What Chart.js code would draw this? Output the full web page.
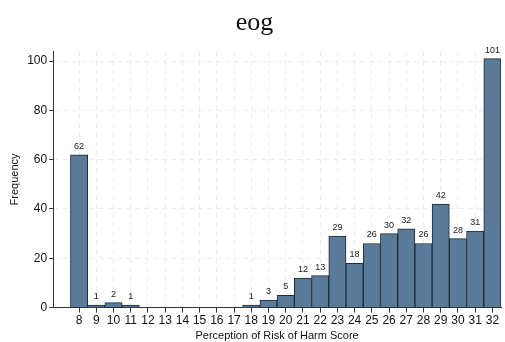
<!DOCTYPE html>
<html>
<head>
<meta charset="utf-8">
<script src="https://cdn.jsdelivr.net/npm/chart.js@4/dist/chart.umd.min.js"></script>
<style>
  html, body { margin: 0; padding: 0; background: #fff; }
  #wrap { width: 505px; height: 342px; }
</style>
</head>
<body>
<div id="wrap"><canvas id="chart"></canvas></div>
<script>
// Histogram data: score -> frequency
const scores = [8, 9, 10, 11, 12, 13, 14, 15, 16, 17, 18, 19, 20, 21, 22, 23, 24, 25, 26, 27, 28, 29, 30, 31, 32];
const freqs  = [62, 1, 2, 1, 0, 0, 0, 0, 0, 0, 1, 3, 5, 12, 13, 29, 18, 26, 30, 32, 26, 42, 28, 31, 101];
const yTicks = [0, 20, 40, 60, 80, 100];

const FONT = '"Liberation Sans", Arial, sans-serif';

// Draw frequency labels above each non-empty bar
const barLabels = {
    id: 'barLabels',
    afterDatasetsDraw(chart) {
        const ctx = chart.ctx;
        const meta = chart.getDatasetMeta(0);
        ctx.save();
        ctx.font = '9px ' + FONT;
        ctx.fillStyle = '#1a1a1a';
        ctx.textAlign = 'center';
        ctx.textBaseline = 'bottom';
        meta.data.forEach((bar, i) => {
            const v = freqs[i];
            if (!v) return;
            ctx.fillText(String(v), bar.x, bar.y - 4);
        });
        ctx.restore();
    }
};

const gridColor = '#ececec';

new Chart(document.getElementById('chart').getContext('2d'), {
    type: 'bar',
    data: {
        datasets: [{
            data: scores.map((s, i) => ({ x: s, y: freqs[i] })),
            backgroundColor: '#5a7a99',
            borderColor: '#1e2a36',
            borderWidth: 1,
            borderSkipped: 'bottom',
            barPercentage: 1,
            categoryPercentage: 1
        }]
    },
    options: {
        responsive: true,
        maintainAspectRatio: false,
        animation: false,
        layout: { padding: { left: 8, right: 4, top: 0, bottom: 0 } },
        plugins: {
            legend: { display: false },
            tooltip: { enabled: false },
            title: {
                display: true,
                text: 'eog',
                color: '#111',
                font: { family: '"Liberation Serif", "Times New Roman", serif', size: 26, weight: 'normal' },
                padding: { top: 8, bottom: 12 }
            }
        },
        scales: {
            x: {
                type: 'linear',
                min: 6.5,
                max: 32.5,
                offset: false,
                afterBuildTicks: (scale) => { scale.ticks = scores.map(v => ({ value: v })); },
                grid: { offset: false, color: gridColor, lineWidth: 1, tickLength: 5, tickColor: '#333' },
                border: { display: true, color: '#333', width: 1, dash: [5, 4] },
                ticks: {
                    color: '#111',
                    font: { family: FONT, size: 12 },
                    padding: 1,
                    maxRotation: 0,
                    autoSkip: false
                },
                title: {
                    display: true,
                    text: 'Perception of Risk of Harm Score',
                    color: '#111',
                    font: { family: FONT, size: 11, lineHeight: 1 },
                    padding: { top: 1, bottom: 1 }
                }
            },
            y: {
                min: 0,
                max: 104,
                afterBuildTicks: (scale) => { scale.ticks = yTicks.map(v => ({ value: v })); },
                grid: { color: gridColor, lineWidth: 1, tickLength: 4, tickColor: '#333' },
                border: { display: true, color: '#333', width: 1, dash: [5, 4] },
                ticks: {
                    color: '#111',
                    font: { family: FONT, size: 12 },
                    padding: 2
                },
                title: {
                    display: true,
                    text: 'Frequency',
                    color: '#111',
                    font: { family: FONT, size: 11 },
                    padding: { top: 0, bottom: 4 }
                }
            }
        }
    },
    plugins: [barLabels]
});
</script>
</body>
</html>
